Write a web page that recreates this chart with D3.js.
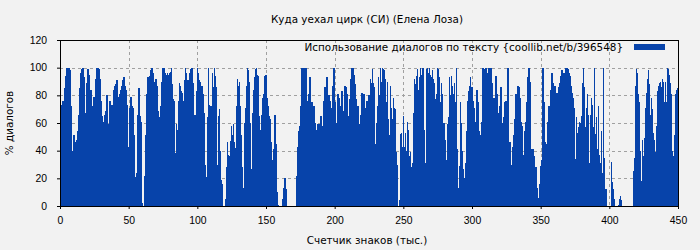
<!DOCTYPE html>
<meta charset="utf-8">
<style>
body { margin: 0; background: #f2f2f2; }
svg { font-family: "DejaVu Sans", sans-serif; font-size: 10.4px; }
.grid line { stroke: #a0a0a0; stroke-dasharray: 3,3; }
.axis path { display: none; }
.axis line { stroke: #000; }
</style>
<svg width="700" height="250"></svg>
<script src="https://d3js.org/d3.v7.min.js"></script>
<script>
// one value per bar, left to right (in chunks)
var partA = [69,73,76,52,85,94,100,96,100,98,72,24,40,51,46,38,48,54,66,85,96,99,100,93,57,67,89,99,95,83,
  84,72,68,79,77,92,100,100,99,92,76,65,61,31,66,69,80,45,59,76,58,73,67,84,87,88,91,79,69,81,
  84,87,91,93,87,84,73,40,43,71,79,72,71,51,21,13,24,66,85,65,61,2,0,0,22,51];
var partB = [81,93,87,94,98,100,96,90,89,92,87,69,32,64,72,90,100,100,96,95,96,95,96,97,100,88,77,76,38,59,
  55,76,89,87,83,82,76,91,100,96,91,91,96,99,100,100,89,66,66,83,100,96,91,90,87,87,81,67,30,21,
  64,100,73,72,72,96,86,100,94,86,30,65,70,40,19,16,0,0,5,28,46,37,36,47,58,51,59,46,42,72];
var partC = [92,87,90,72,51,28,13,60,71,87,100,98,90,60,27,67,84,93,99,100,95,94,65,55,66,78,81,94,95,78,
  72,65,63,46,1,33,41,66,45,10,1,0,0,0,0,5,13,20,12,0,0,0,0,0,0,0,0,0,0,
  22,43,54,58,72,100,100,100,92,100,76,71,81,93,69,75,64,72,60,55,53,59,39,59,65,51,58,76,86,84,93];
var partD = [75,80,76,71,61,87,100,75,60,37,81,78,64,72,83,69,64,87,86,81,53,65,77,92,100,100,95,88,77,64,
  72,59,51,66,82,76,81,65,71,76,63,80,92,89,99,89,86,45,60,72,93,80,100,90,100,99,98,92,75,90,
  63,51,87,71,63,78,71,70,39,30,0,4,52,53,43,65,43,53,40,61,55,36,39,28,31,67,92,88,94,99];
var partE = [84,93,100,95,100,100,55,31,99,100,96,100,95,93,98,92,89,77,81,100,99,93,75,89,81,60,60,48,33,59,
  64,93,80,94,87,81,89,75,100,41,13,29,75,60,40,27,20,31,54,76,83,87,93,86,76,71,57,61,84,75,
  54,33,51,61,100,94,99,100,96,89,100,100,100,89,78,75,78,94,81,67,57,72,86,29,60,64,75,76,67,100];
var partF = [45,46,24,30,43,51,63,81,64,87,86,78,61,58,27,37,54,61,75,93,100,90,27,41,41,36,19,28,13,6,
  1,16,29,33,100,75,46,45,17,61,72,71,84,96,89,76,87,75,82,59,86,89,94,98,92,96,96,100,100,99,
  96,94,87,82,78,71,34,64,53,57,61,60,65,89,100,86,57,71,81,66,31,66,78,73,57,100,52,64,41,72];
var partG = [37,31,54,24,100,35,12,12,0,0,0,0,32,17,12,5,0,0,0,1,5,7,4,0,0,0,0,0,0,0,0,0,0,0,
  25,35,87,99,96,81,75,40,18,48,36,49,71,82,92,98,88,66,78,70,53,48,39,58,83,87,89,90,86,92,
  90,75,90,75,100,99,95,89,81,40,36,51,81,84,85];
var values = [].concat(partA, partB, partC, partD, partE, partF, partG);

var xTicks = [0, 50, 100, 150, 200, 250, 300, 350, 400, 450];
var yTicks = [0, 20, 40, 60, 80, 100, 120];
var title = "Куда уехал цирк (СИ) (Елена Лоза)";
var legendText = "Использование диалогов по тексту {coollib.net/b/396548}";

var svg = d3.select("svg");
var pLeft = 60, pRight = 678, pTop = 40, pBottom = 206;

var x = d3.scaleLinear().domain([0, 450]).range([pLeft, pRight]);
var y = d3.scaleLinear().domain([0, 120]).range([pBottom, pTop]);
var band = d3.scaleBand().domain(d3.range(values.length)).range([pLeft, pRight]).paddingInner(0);

svg.append("rect").attr("width", 700).attr("height", 250).attr("fill", "#f2f2f2");

// grid
var grid = svg.append("g").attr("class", "grid");
grid.selectAll(".gx").data(xTicks.slice(1, -1)).enter().append("line")
  .attr("x1", d => Math.round(x(d)) + 0.5).attr("x2", d => Math.round(x(d)) + 0.5)
  .attr("y1", pTop).attr("y2", pBottom);
grid.selectAll(".gy").data(yTicks.slice(1, -1)).enter().append("line")
  .attr("x1", pLeft).attr("x2", pRight)
  .attr("y1", d => Math.round(y(d)) + 0.5).attr("y2", d => Math.round(y(d)) + 0.5);

// bars
svg.append("g").attr("shape-rendering", "crispEdges")
  .selectAll("rect").data(values).enter().append("rect")
  .attr("x", (d, i) => band(i))
  .attr("width", band.bandwidth() + 0.5)
  .attr("y", d => y(d))
  .attr("height", d => y(0) - y(d))
  .attr("fill", "#0743aa");

// axes
svg.append("g").attr("class", "axis")
  .attr("transform", "translate(0," + pBottom + ")")
  .call(d3.axisBottom(x).tickValues(xTicks).tickSize(3).tickPadding(8));
svg.append("g").attr("class", "axis")
  .attr("transform", "translate(" + pLeft + ",0)")
  .call(d3.axisLeft(y).tickValues(yTicks).tickSize(3).tickPadding(10));
svg.selectAll(".axis text").attr("fill", "#000").style("font-size", "10.4px");

svg.append("rect").attr("x", pLeft + 0.5).attr("y", pTop + 0.5)
  .attr("width", pRight - pLeft).attr("height", pBottom - pTop)
  .attr("fill", "none").attr("stroke", "#000").attr("stroke-width", 1);

// texts
svg.append("text").attr("x", 367).attr("y", 23).attr("text-anchor", "middle").text(title);
svg.append("text").attr("x", 367).attr("y", 244).attr("text-anchor", "middle").text("Счетчик знаков (тыс.)");
svg.append("text").attr("transform", "translate(13,123) rotate(-90)")
  .attr("text-anchor", "middle").text("% диалогов");

// legend
svg.append("text").attr("x", 623).attr("y", 51).attr("text-anchor", "end").text(legendText);
svg.append("rect").attr("x", 634).attr("y", 44).attr("width", 31).attr("height", 6).attr("fill", "#0743aa");
</script>
